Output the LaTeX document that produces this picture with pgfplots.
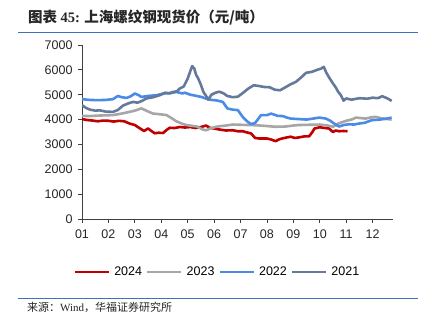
\documentclass[border=0pt]{standalone}
\usepackage{pgfplots}
\pgfplotsset{compat=1.18}
\usepackage{fontspec}
\setmainfont{Liberation Sans}
\newfontfamily\cjk{Noto Sans CJK SC}
\newfontfamily\serif{Liberation Serif}
\definecolor{c24}{HTML}{C00000}
\definecolor{c23}{HTML}{A6A6A6}
\definecolor{c22}{HTML}{4A8BE8}
\definecolor{c21}{HTML}{64799B}
\definecolor{rule}{HTML}{3F6FBF}
\begin{document}
\begin{tikzpicture}
\path[use as bounding box] (0pt,0pt) rectangle (421pt,328pt);
\node[anchor=west,inner sep=0pt,text=black!85] at (28pt,310pt) {\fontsize{14.5}{16}\selectfont\cjk\bfseries 图表 {\serif\bfseries 45:} 上海螺纹钢现货价（元/吨）};
\draw[rule,line width=0.9pt] (18pt,296pt) -- (418pt,296pt);
\draw[rule,line width=0.9pt] (18pt,30pt) -- (418pt,30pt);
\node[anchor=west,inner sep=0pt,text=black!85] at (27pt,21pt) {\fontsize{11}{12}\selectfont\cjk 来源：{\serif Wind}，华福证券研究所};
\begin{axis}[
  at={(82pt,109pt)}, anchor=south west,
  scale only axis, width=310.7pt, height=174pt,
  xmin=1, xmax=12.76, ymin=0, ymax=7000,
  axis lines=left, axis line style={black!75, line width=0.8pt, -},
  xtick={1,...,12},
  xticklabels={01,02,03,04,05,06,07,08,09,10,11,12},
  ytick={0,1000,...,7000},
  tick style={black!75, line width=0.8pt},
  major tick length=4pt,
  tick align=outside,
  scaled y ticks=false,
  /pgf/number format/1000 sep={},
  /pgf/number format/fixed,
  tick label style={font=\fontsize{12.5}{14}\selectfont, text=black!85},
  /pgf/number format/assume math mode=true,
  xticklabel style={yshift=-3pt},
  yticklabel style={xshift=-2pt},
  legend columns=4,
  legend style={at={(0.436,-0.305)}, anchor=center, draw=none, fill=none,
    font=\fontsize{12.5}{14}\selectfont, column sep=2pt, inner sep=0pt},
  legend image code/.code={\draw[#1] (0pt,0pt) -- (34pt,0pt);},
  every axis plot/.append style={line width=2.6pt, line join=round, mark=none},
]
\addplot[c24] coordinates {
(1.0,4020)(1.2,3980)(1.4,3960)(1.6,3930)(1.8,3960)(2.0,3950)(2.2,3920)(2.4,3950)(2.6,3930)(2.8,3840)(3.0,3780)(3.2,3640)(3.35,3540)(3.5,3640)(3.6,3560)(3.75,3450)(3.9,3470)(4.07,3460)(4.2,3580)(4.32,3670)(4.5,3660)(4.7,3700)(4.9,3680)(5.1,3700)(5.3,3660)(5.5,3700)(5.7,3760)(5.83,3670)(6.0,3640)(6.2,3600)(6.45,3560)(6.7,3570)(6.9,3530)(7.09,3530)(7.25,3480)(7.4,3440)(7.55,3260)(7.7,3240)(8.0,3240)(8.15,3200)(8.33,3130)(8.45,3200)(8.58,3240)(8.75,3280)(8.9,3310)(9.05,3260)(9.2,3280)(9.4,3320)(9.6,3330)(9.72,3500)(9.8,3640)(10.0,3690)(10.2,3660)(10.35,3640)(10.5,3500)(10.6,3560)(10.73,3530)(10.9,3540)(11.05,3530)};
\addlegendentry{2024}
\addplot[c23] coordinates {
(1.0,4150)(1.3,4140)(1.6,4160)(1.9,4170)(2.17,4180)(2.5,4240)(2.8,4310)(3.0,4360)(3.25,4450)(3.45,4350)(3.69,4240)(3.9,4220)(4.2,4180)(4.4,4050)(4.57,3930)(4.8,3830)(4.95,3780)(5.15,3750)(5.35,3720)(5.57,3600)(5.7,3570)(5.85,3640)(6.08,3710)(6.2,3730)(6.45,3760)(6.7,3800)(7.0,3790)(7.3,3780)(7.6,3770)(8.0,3740)(8.3,3710)(8.7,3720)(9.0,3760)(9.2,3780)(9.6,3790)(10.0,3800)(10.3,3760)(10.5,3710)(10.7,3840)(11.0,3950)(11.2,4000)(11.37,4080)(11.55,4060)(11.74,4040)(11.9,4080)(12.1,4110)(12.3,4060)(12.5,4030)(12.72,4000)};
\addlegendentry{2023}
\addplot[c22] coordinates {
(1.0,4820)(1.3,4790)(1.6,4780)(1.9,4790)(2.17,4820)(2.36,4950)(2.5,4900)(2.69,4870)(2.85,4940)(3.0,5050)(3.15,4980)(3.25,4910)(3.5,4950)(3.82,4980)(4.1,5050)(4.35,5060)(4.57,5110)(4.8,5050)(4.9,5080)(5.1,5000)(5.3,4960)(5.52,4910)(5.7,4840)(5.9,4790)(6.1,4770)(6.33,4710)(6.5,4450)(6.7,4400)(6.9,4380)(7.08,4110)(7.27,3910)(7.4,3820)(7.55,3860)(7.78,4180)(8.0,4180)(8.16,4240)(8.4,4150)(8.6,4140)(8.75,4080)(8.9,4040)(9.2,4020)(9.5,4000)(9.75,4040)(9.98,4080)(10.23,4040)(10.4,3950)(10.5,3870)(10.73,3720)(10.9,3780)(11.1,3810)(11.3,3800)(11.49,3840)(11.7,3870)(11.98,3980)(12.2,3990)(12.5,4030)(12.72,4080)};
\addlegendentry{2022}
\addplot[c21] coordinates {
(1.0,4580)(1.15,4470)(1.3,4400)(1.5,4360)(1.68,4370)(1.9,4320)(2.17,4310)(2.35,4380)(2.55,4560)(2.75,4650)(2.93,4710)(3.1,4680)(3.25,4740)(3.44,4850)(3.7,4900)(3.94,4980)(4.15,5080)(4.3,5060)(4.45,5110)(4.6,5140)(4.7,5250)(4.85,5330)(5.0,5650)(5.1,5950)(5.17,6150)(5.25,6050)(5.32,5800)(5.4,5650)(5.5,5400)(5.6,5100)(5.68,4980)(5.78,4800)(5.9,5000)(6.05,5080)(6.2,5120)(6.35,5060)(6.5,4950)(6.7,4900)(6.9,4920)(7.1,5080)(7.3,5250)(7.5,5380)(7.7,5350)(7.9,5310)(8.1,5300)(8.3,5200)(8.5,5180)(8.7,5300)(8.9,5420)(9.1,5520)(9.3,5700)(9.48,5880)(9.7,5920)(9.9,6000)(10.05,6050)(10.15,6120)(10.25,5880)(10.35,5700)(10.5,5450)(10.6,5300)(10.7,5110)(10.8,4980)(10.9,4760)(11.0,4850)(11.2,4800)(11.5,4860)(11.8,4840)(12.0,4880)(12.2,4860)(12.36,4940)(12.5,4880)(12.6,4830)(12.72,4750)};
\addlegendentry{2021}
\end{axis}
\end{tikzpicture}
\end{document}
